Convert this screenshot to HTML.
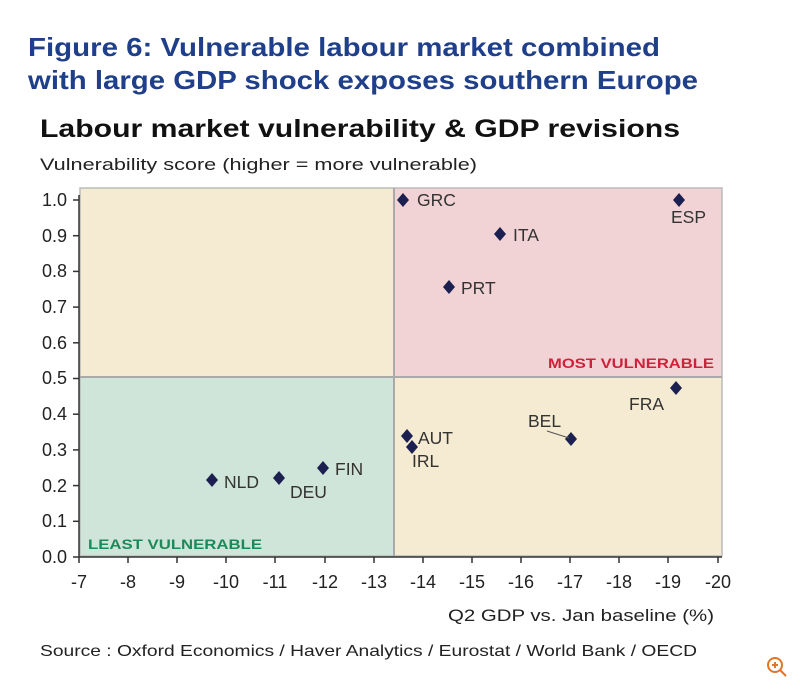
<!DOCTYPE html>
<html><head><meta charset="utf-8"><style>
body{margin:0;background:#fff;width:800px;height:689px;overflow:hidden;font-family:"Liberation Sans",Arial,sans-serif}
</style></head><body>
<svg width="800" height="689" xmlns="http://www.w3.org/2000/svg" font-family="Liberation Sans, Arial, sans-serif">
<text x="28" y="56" font-size="26" font-weight="bold" fill="#1f3f8a" textLength="632" lengthAdjust="spacingAndGlyphs">Figure 6: Vulnerable labour market combined</text>
<text x="28" y="89" font-size="26" font-weight="bold" fill="#1f3f8a" textLength="670" lengthAdjust="spacingAndGlyphs">with large GDP shock exposes southern Europe</text>
<text x="40" y="137" font-size="25" font-weight="bold" fill="#111" textLength="640" lengthAdjust="spacingAndGlyphs">Labour market vulnerability &amp; GDP revisions</text>
<text x="40" y="170" font-size="17" fill="#222" textLength="437" lengthAdjust="spacingAndGlyphs">Vulnerability score (higher = more vulnerable)</text>
<rect x="80" y="188" width="314" height="189" fill="#f5ebd2"/>
<rect x="394" y="188" width="328" height="189" fill="#f2d3d5"/>
<rect x="80" y="377" width="314" height="179" fill="#cfe5d9"/>
<rect x="394" y="377" width="328" height="179" fill="#f5ebd2"/>
<rect x="80" y="188" width="642" height="368" fill="none" stroke="#bbb" stroke-width="1.5"/>
<line x1="394" y1="188" x2="394" y2="556" stroke="#aaa" stroke-width="2"/>
<line x1="80" y1="377" x2="722" y2="377" stroke="#aaa" stroke-width="2"/>
<line x1="79" y1="195" x2="79" y2="557" stroke="#333" stroke-width="1.5"/>
<line x1="79" y1="557" x2="722" y2="557" stroke="#333" stroke-width="1.5"/>
<g stroke="#333" stroke-width="1.5">
<line x1="73" y1="200" x2="79" y2="200"/><line x1="73" y1="235.7" x2="79" y2="235.7"/><line x1="73" y1="271.4" x2="79" y2="271.4"/><line x1="73" y1="307.1" x2="79" y2="307.1"/><line x1="73" y1="342.8" x2="79" y2="342.8"/><line x1="73" y1="378.5" x2="79" y2="378.5"/><line x1="73" y1="414.2" x2="79" y2="414.2"/><line x1="73" y1="449.9" x2="79" y2="449.9"/><line x1="73" y1="485.6" x2="79" y2="485.6"/><line x1="73" y1="521.3" x2="79" y2="521.3"/><line x1="73" y1="557" x2="79" y2="557"/>
</g>
<g font-size="18" fill="#222" text-anchor="end">
<text x="67" y="206">1.0</text><text x="67" y="242">0.9</text><text x="67" y="277">0.8</text><text x="67" y="313">0.7</text><text x="67" y="349">0.6</text><text x="67" y="384">0.5</text><text x="67" y="420">0.4</text><text x="67" y="456">0.3</text><text x="67" y="492">0.2</text><text x="67" y="527">0.1</text><text x="67" y="563">0.0</text>
</g>
<g stroke="#333" stroke-width="1.5">
<line x1="79" y1="557" x2="79" y2="563"/><line x1="128" y1="557" x2="128" y2="563"/><line x1="177" y1="557" x2="177" y2="563"/><line x1="226" y1="557" x2="226" y2="563"/><line x1="275" y1="557" x2="275" y2="563"/><line x1="325" y1="557" x2="325" y2="563"/><line x1="374" y1="557" x2="374" y2="563"/><line x1="423" y1="557" x2="423" y2="563"/><line x1="472" y1="557" x2="472" y2="563"/><line x1="521" y1="557" x2="521" y2="563"/><line x1="570" y1="557" x2="570" y2="563"/><line x1="619" y1="557" x2="619" y2="563"/><line x1="668" y1="557" x2="668" y2="563"/><line x1="718" y1="557" x2="718" y2="563"/>
</g>
<g font-size="18" fill="#222" text-anchor="middle">
<text x="79" y="588">-7</text><text x="128" y="588">-8</text><text x="177" y="588">-9</text><text x="226" y="588">-10</text><text x="275" y="588">-11</text><text x="325" y="588">-12</text><text x="374" y="588">-13</text><text x="423" y="588">-14</text><text x="472" y="588">-15</text><text x="521" y="588">-16</text><text x="570" y="588">-17</text><text x="619" y="588">-18</text><text x="668" y="588">-19</text><text x="718" y="588">-20</text>
</g>
<text x="448" y="621" font-size="17" fill="#222" textLength="266" lengthAdjust="spacingAndGlyphs">Q2 GDP vs. Jan baseline (%)</text>
<text x="40" y="656" font-size="16" fill="#222" textLength="657" lengthAdjust="spacingAndGlyphs">Source : Oxford Economics / Haver Analytics / Eurostat / World Bank / OECD</text>
<text x="548" y="368" font-size="14" font-weight="bold" fill="#d0213a" textLength="166" lengthAdjust="spacingAndGlyphs">MOST VULNERABLE</text>
<text x="88" y="549" font-size="14" font-weight="bold" fill="#1a8a5a" textLength="174" lengthAdjust="spacingAndGlyphs">LEAST VULNERABLE</text>
<g fill="#1b2050">
<path d="M403 193l6 7-6 7-6-7z"/><path d="M679 193l6 7-6 7-6-7z"/><path d="M500 227l6 7-6 7-6-7z"/><path d="M449 280l6 7-6 7-6-7z"/><path d="M676 381l6 7-6 7-6-7z"/><path d="M571 432l6 7-6 7-6-7z"/><path d="M407 429l6 7-6 7-6-7z"/><path d="M412 440l6 7-6 7-6-7z"/><path d="M212 473l6 7-6 7-6-7z"/><path d="M279 471l6 7-6 7-6-7z"/><path d="M323 461l6 7-6 7-6-7z"/>
</g>
<line x1="547" y1="431" x2="569" y2="438" stroke="#555"/>
<g font-size="17.5" fill="#333">
<text x="417" y="206">GRC</text><text x="513" y="241">ITA</text><text x="461" y="294">PRT</text><text x="671" y="223">ESP</text><text x="629" y="410">FRA</text><text x="528" y="427">BEL</text><text x="418" y="444">AUT</text><text x="412" y="467">IRL</text><text x="224" y="488">NLD</text><text x="290" y="498">DEU</text><text x="335" y="475">FIN</text>
</g>
<g stroke="#e0762a" stroke-width="2" fill="none"><circle cx="775" cy="665" r="7"/><line x1="780" y1="670" x2="786" y2="676"/><line x1="772" y1="665" x2="778" y2="665"/><line x1="775" y1="662" x2="775" y2="668"/></g>
</svg>
</body></html>
